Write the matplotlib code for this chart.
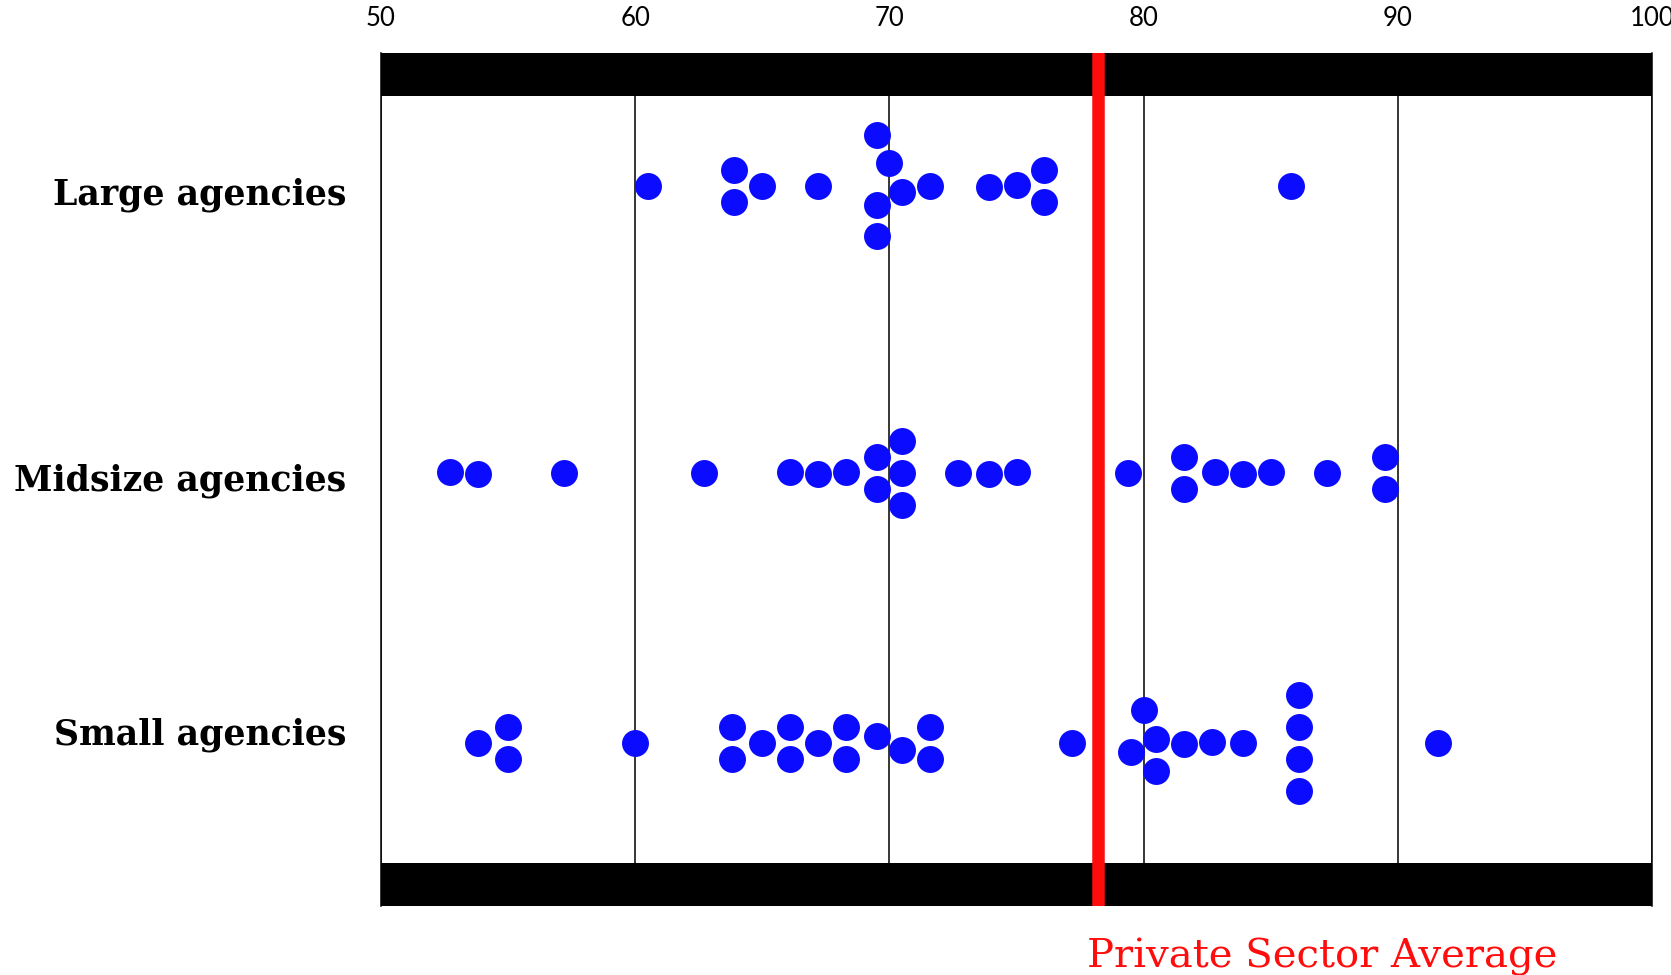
import numpy as np
import matplotlib
matplotlib.use('Agg')
import matplotlib.pyplot as plt

# survey scores, one list per agency size
groups = ['Large agencies', 'Midsize agencies', 'Small agencies']
large = [60.5, 63.9, 63.9, 65.0, 67.2, 69.5, 69.5, 69.5, 70.0, 70.5, 71.6,
         73.9, 75.0, 76.1, 76.1, 85.8]
midsize = [52.7, 53.8, 57.2, 62.7, 66.1, 67.2, 68.3, 69.5, 69.5, 70.5, 70.5,
           70.5, 72.7, 73.9, 75.0, 79.4, 81.6, 81.6, 82.8, 83.9, 85.0, 87.2,
           89.5, 89.5]
small = [53.8, 55.0, 55.0, 60.0, 63.8, 63.8, 65.0, 66.1, 66.1, 67.2, 68.3,
         68.3, 69.5, 70.5, 71.6, 71.6, 77.2, 79.5, 80.0, 80.5, 80.5, 81.6,
         82.7, 83.9, 86.1, 86.1, 86.1, 86.1, 91.6]
private_avg = 78.2
xticks = [50, 60, 70, 80, 90, 100]

W, H = 1671, 975
blue = '#0b0bff'
red = '#ff0d0d'

# axes placed in pixel terms, y data runs in image pixels (top = 53)
ax_left, ax_right, ax_top, ax_bottom = 381, 1652, 53, 906
bar_h = 43
row_y = [186, 473, 743]          # swarm centre lines
label_base = [205, 490, 744]      # label baselines


def swarm_offsets(px, dx_min=28.0, dy_min=32.0, n_iter=300):
    # simple relaxation: pull toward centre, push overlapping dots apart vertically
    n = len(px)
    off = np.array([(1 if i % 2 else -1) * 0.5 * (i % 3 + 1) for i in range(n)], float)
    for _ in range(n_iter):
        off *= 0.97
        for _ in range(3):
            for a in range(n):
                for b in range(a + 1, n):
                    dx = abs(px[b] - px[a])
                    if dx >= dx_min:
                        continue
                    need = dy_min * np.sqrt(1 - (dx / dx_min) ** 2)
                    dy = off[b] - off[a]
                    if abs(dy) < need:
                        s = 1.0 if dy >= 0 else -1.0
                        push = (need - abs(dy)) / 2
                        off[b] += s * push
                        off[a] -= s * push
    return off


def fit_width(txt, target_px, renderer):
    bb = txt.get_window_extent(renderer=renderer)
    txt.set_fontsize(txt.get_fontsize() * target_px / bb.width)


fig = plt.figure(figsize=(W / 100, H / 100), dpi=100)
ax = fig.add_axes([ax_left / W, 1 - ax_bottom / H,
                   (ax_right - ax_left) / W, (ax_bottom - ax_top) / H])
ax.set_xlim(50, 100)
ax.set_ylim(ax_bottom, ax_top)

px_per_unit = (ax_right - ax_left) / 50.0

ax.axhspan(ax_top, ax_top + bar_h, color='black', zorder=2, lw=0)
ax.axhspan(ax_bottom - bar_h, ax_bottom, color='black', zorder=2, lw=0)

for v in xticks:
    ax.axvline(v, color='black', lw=1.1, zorder=1)

ax.axvline(private_avg, color=red, lw=9, zorder=5)

for vals, yc in zip([large, midsize, small], row_y):
    vals = np.array(vals)
    off = swarm_offsets((vals - 50) * px_per_unit)
    ax.scatter(vals, yc + off, s=19.4 ** 2, color=blue, lw=0, zorder=4)

ax.xaxis.tick_top()
ax.set_xticks(xticks)
ax.set_xticklabels([str(v) for v in xticks], fontsize=18.5, family='Lato')
ax.tick_params(axis='x', length=0, pad=16)
ax.set_yticks([])
for s in ['top', 'bottom']:
    ax.spines[s].set_visible(False)
for s in ['left', 'right']:
    ax.spines[s].set_linewidth(1.1)

renderer = fig.canvas.get_renderer()
for g, yb in zip(groups, label_base):
    t = fig.text(346 / W, 1 - yb / H, g, ha='right', va='baseline',
                 family='DejaVu Serif', weight='bold', fontsize=24)
    if g == 'Large agencies':
        fit_width(t, 295, renderer)
        lab_size = t.get_fontsize()
for t in fig.texts:
    t.set_fontsize(lab_size)

pt = fig.text(1087 / W, 1 - 967 / H, 'Private Sector Average', ha='left',
              va='baseline', family='DejaVu Serif', color=red, fontsize=26)
fit_width(pt, 470, renderer)

fig.savefig('out.png', dpi=100)
